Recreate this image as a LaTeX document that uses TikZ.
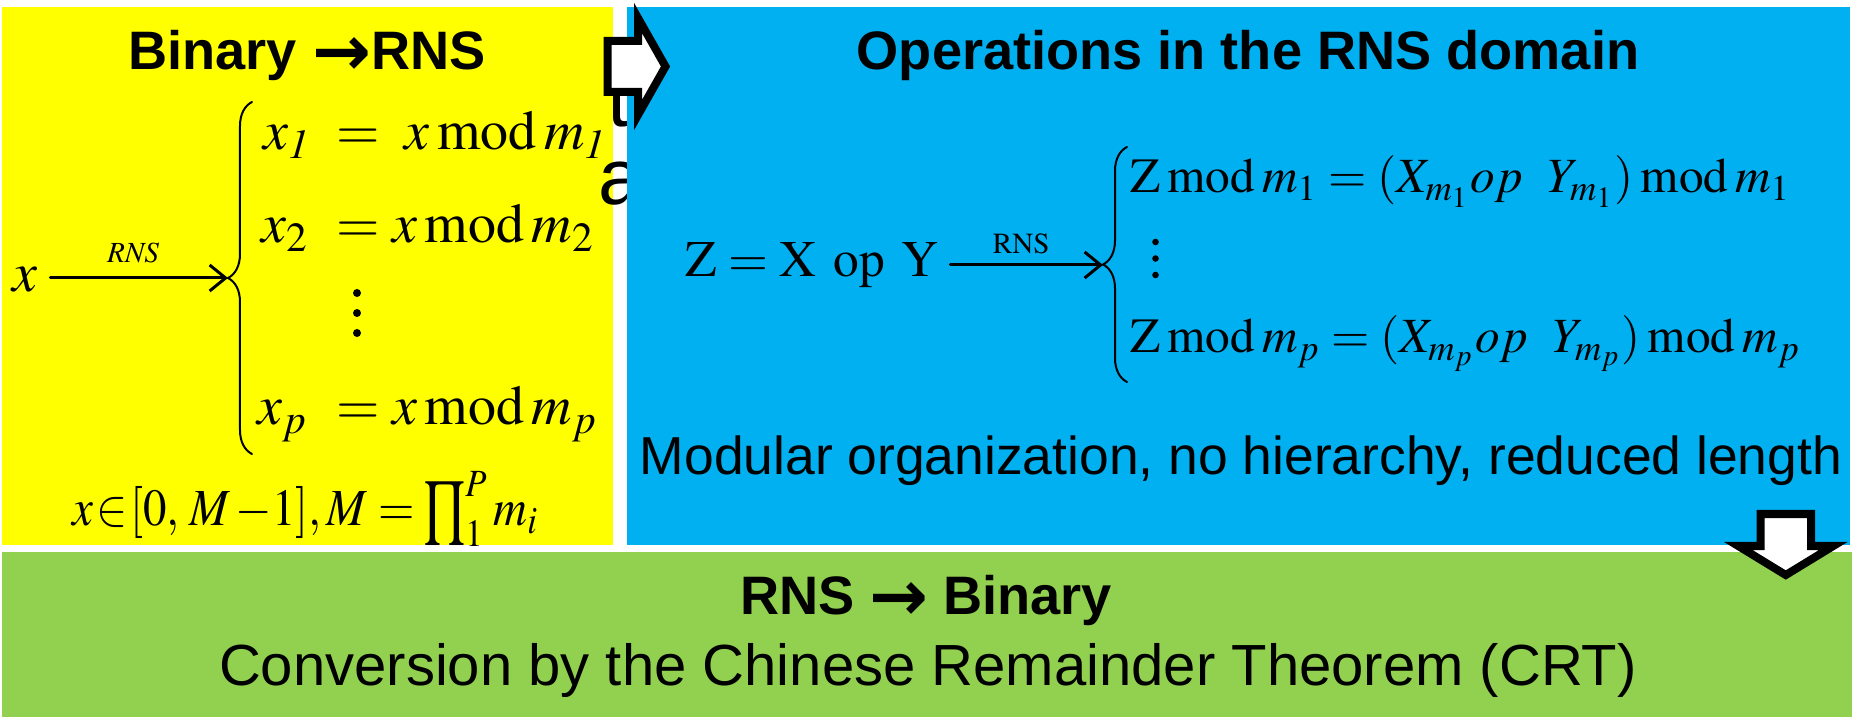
\documentclass[tikz,border=0pt]{standalone}
\usepackage{graphicx}
\usepackage{mathptmx}
\usepackage[no-math]{fontspec}
\newfontfamily\arialfont{Liberation Sans}
\newfontfamily\arrowfont{DejaVu Sans}
\usetikzlibrary{arrows.meta, decorations.pathreplacing}
\definecolor{rnsyellow}{HTML}{FFFF00}
\definecolor{rnsblue}{HTML}{00B0F0}
\definecolor{rnsgreen}{HTML}{92D050}
\newcommand{\thickarrow}{\raisebox{-0.1em}{\scalebox{1.3}{\arrowfont\bfseries →}}}
\newcommand{\bigprod}{\mathop{\raisebox{-0.1em}{\scalebox{1.05}[1.4]{$\prod$}}}\nolimits}

\begin{document}
\begin{tikzpicture}[x=0.01cm, y=-0.01cm, line cap=round,
  >={Straight Barb[length=0.16cm, width=0.26cm]},
  every node/.style={inner sep=0pt},
  title/.style={font=\arialfont\bfseries\fontsize{15.4}{18}\selectfont, anchor=base},
  plain/.style={font=\arialfont\fontsize{15.2}{18}\selectfont, anchor=base},
  eqL/.style={font=\fontsize{15.9}{19}\selectfont, anchor=base west},
  eqR/.style={font=\fontsize{14}{17}\selectfont, anchor=base west},
  lbl/.style={font=\fontsize{8.3}{10}\selectfont},
  curly/.style={decorate, decoration={brace, amplitude=0.24cm}, line width=0.02cm},
  blockarrow/.style={draw, fill=white, line width=0.08cm, line join=miter}]

\useasboundingbox (0,0) rectangle (1858,719);

% the three panels (left one overlaps some hidden text)
\fill[rnsyellow] (2,7) rectangle (613,545);
\node[font=\arialfont\fontsize{22.5}{27}\selectfont, anchor=base west] (hidT) at (607,127) {t};
\node[font=\arialfont\fontsize{22.5}{27}\selectfont, anchor=base west] (hidA) at (598,205) {a};
\fill[rnsblue] (627,7) rectangle (1850,545);
\fill[rnsgreen] (2,552) rectangle (1852,717);

% binary -> RNS
\node[title] (binT) at (307,70) {Binary \thickarrow RNS};
\node[eqL] (xin) at (12,292) {$x$};
\coordinate (tipL) at (228,278);
\draw[curly] (252,454) -- (252,102);
\draw[->, line width=0.03cm, shorten <=0.12cm] (xin.east |- tipL) -- node[above=0.13cm, lbl] {$\mathit{RNS}$} (tipL);
\node[eqL] (x1) at (263,150) {$\makebox[0.60cm][l]{$x_{\mathit 1}$} = \; x\:\mathrm{mod}\:m_{\mathit 1}$};
\node[eqL] (x2) at (261,243) {$\makebox[0.62cm][l]{$x_2$} = x\:\mathrm{mod}\:m_2$};
\foreach \yy in {293, 313, 333} \fill (357,\yy) circle (0.04cm);
\node[eqL] (xp) at (257,425) {$\makebox[0.66cm][l]{$x_p$} = x\:\mathrm{mod}\:m_p$};
\node[eqL, font=\fontsize{14.8}{18}\selectfont] (range) at (72,526)
  {\scalebox{0.9}[1]{$x\mathrel{\mkern-3mu\in\mkern-3mu}[0,\,M\,{-}1],M=\bigprod_1^P m_i$}};

% operations in the RNS domain
\node[title] (opT) at (1248,70) {Operations in the RNS domain};
\node[eqR, font=\fontsize{14.6}{17}\selectfont] (zxy) at (685,277) {$\mathrm{Z}=\mathrm{X}\ \mathrm{op}\ \mathrm{Y}$};
\coordinate (tipR) at (1103,265);
\draw[curly] (1127,382) -- (1127,147);
\draw[->, line width=0.03cm, shorten <=0.11cm] (zxy.east |- tipR) -- node[above=0.1cm, lbl] {$\mathrm{RNS}$} (tipR);
\node[eqR] (z1) at (1130,193) {$\mathrm{Z}\:\mathrm{mod}\:m_1 = (X_{m_1} op\enspace Y_{m_1})\:\mathrm{mod}\:m_1$};
\foreach \yy in {242, 258.5, 275} \fill (1155.5,\yy) circle (0.033cm);
\node[eqR] (zp) at (1130,353) {$\mathrm{Z}\:\mathrm{mod}\:m_p = (X_{m_p} op\enspace Y_{m_p})\:\mathrm{mod}\:m_p$};
\node[plain] (modT) at (1241,475) {Modular organization, no hierarchy, reduced length};

% RNS -> binary
\node[title] (crtT) at (926,615) {RNS \thickarrow{} Binary};
\node[plain, font=\arialfont\fontsize{16.5}{20}\selectfont] (crtL) at (928,685) {Conversion by the Chinese Remainder Theorem (CRT)};

% block arrows between the panels
\draw[blockarrow] (607.5,41) -- (638,41) -- (638,18) -- (665.5,66.5) -- (638,115) -- (638,92) -- (607.5,92) -- cycle;
\draw[blockarrow] (1760.5,514) -- (1811,514) -- (1811,546) -- (1833.25,546) -- (1785.75,575) -- (1738.25,546) -- (1760.5,546) -- cycle;

\end{tikzpicture}
\end{document}
